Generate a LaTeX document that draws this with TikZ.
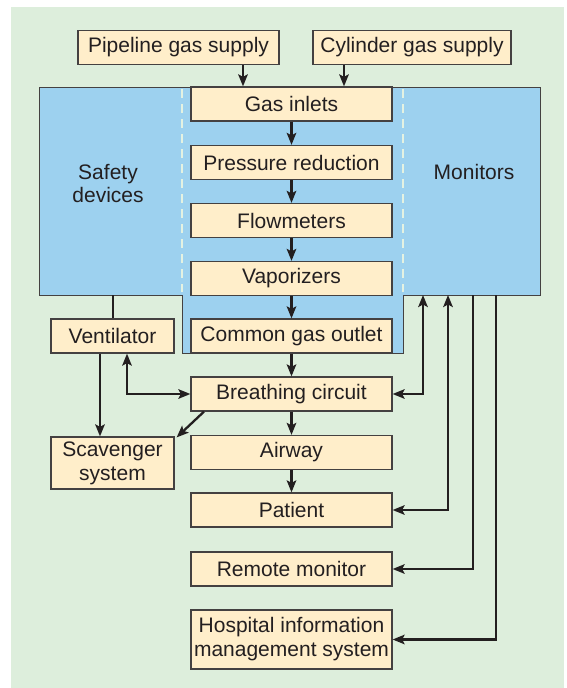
\documentclass[tikz,border=0pt]{standalone}
\usepackage{fontspec}
\setmainfont{Liberation Sans}
\usetikzlibrary{arrows.meta}
\definecolor{bgg}{HTML}{DDEEDC}
\definecolor{blu}{HTML}{9DD1EF}
\definecolor{cream}{HTML}{FFEECA}
\definecolor{ink}{HTML}{231F20}
\definecolor{dashc}{HTML}{E4F2E2}
\begin{document}
\begin{tikzpicture}[x=1pt,y=-1pt,
 box/.style={draw=ink!85, line width=1.2pt, fill=cream, minimum width=201pt, minimum height=34pt, inner sep=0pt, font=\fontsize{21}{24}\selectfont, text=ink, align=center},
 sbox/.style={box, minimum width=123pt},
 lbl/.style={font=\fontsize{21}{23}\selectfont, text=ink, align=center, inner sep=0pt},
 conn/.style={draw=ink, line width=2.3pt},
 tip/.style={},
 arr/.style={conn, -{Stealth[length=12pt,width=9.5pt,inset=2.5pt]}},
 darr/.style={conn, {Stealth[length=12pt,width=9.5pt,inset=2.5pt]}-{Stealth[length=12pt,width=9.5pt,inset=2.5pt]}},
 dashl/.style={draw=dashc, line width=2pt, dash pattern=on 9pt off 6pt}
]
\useasboundingbox (0,0) rectangle (567,688);
\fill[bgg] (11,7) rectangle (564,688);
% blue region
\draw[fill=blu, draw=ink!85, line width=1pt] (39,87) -- (540,87) -- (540,295) -- (403,295) -- (403,353) -- (182,353) -- (182,295) -- (39,295) -- cycle;
\draw[dashl] (182,89) -- (182,292);
\draw[dashl] (403,89) -- (403,292);
\node[lbl] (safety) at (108,184) {Safety\\devices};
\node[lbl] (monitors) at (474,172) {Monitors};
% boxes
\node[box] (pipe) at (178.5,47.5) {Pipeline gas supply};
\node[box, minimum width=198pt] (cyl) at (412,47.5) {Cylinder gas supply};
\node[box] (inlets) at (291.5,104) {Gas inlets};
\node[box] (pressure) at (291.5,162.5) {Pressure reduction};
\node[box] (flow) at (291.5,220.5) {Flowmeters};
\node[box] (vapor) at (291.5,278.5) {Vaporizers};
\node[box] (cgo) at (291.5,336) {Common gas outlet};
\node[sbox] (vent) at (112.5,336) {Ventilator};
\node[box] (bc) at (291.5,394) {Breathing circuit};
\node[sbox, minimum height=52pt] (scav) at (112.5,463) {Scavenger\\system};
\node[box] (airway) at (291.5,452.5) {Airway};
\node[box] (patient) at (291.5,510) {Patient};
\node[box] (remote) at (291.5,569) {Remote monitor};
\node[box, minimum height=59pt] (hosp) at (291.5,639.5) {Hospital information\\management system};
% supply arrows
\draw[arr] ([xshift=64.5pt]pipe.south) -- ([xshift=64.5pt]pipe.south |- inlets.north);
\draw[arr] ([xshift=-68pt]cyl.south) -- ([xshift=-68pt]cyl.south |- inlets.north);
% main chain
\draw[arr] (inlets) -- (pressure);
\draw[arr] (pressure) -- (flow);
\draw[arr] (flow) -- (vapor);
\draw[arr] (vapor) -- (cgo);
\draw[arr] (cgo) -- (bc);
\draw[arr] (bc) -- (airway);
\draw[arr] (airway) -- (patient);
% left side
\coordinate (sd) at (113,295);
\draw[conn] (sd) -- (sd |- vent.north);
\draw[arr] ([xshift=-12.5pt]vent.south) -- ([xshift=-12.5pt]scav.north);
\draw[darr] ([xshift=14.5pt]vent.south) |- (bc.west);
\draw[arr] ([xshift=-87.5pt]bc.south) -- ([xshift=2pt,yshift=-1pt]scav.north east);
% monitors
\coordinate (m1) at (423,295);
\coordinate (m2) at (448,295);
\coordinate (m3) at (473,295);
\coordinate (m4) at (496,295);
\draw[darr] (m1) |- (bc.east);
\draw[darr] (m2) |- (patient.east);
\draw[arr] (m3) |- (remote.east);
\draw[arr] (m4) |- (hosp.east);
\end{tikzpicture}
\end{document}
